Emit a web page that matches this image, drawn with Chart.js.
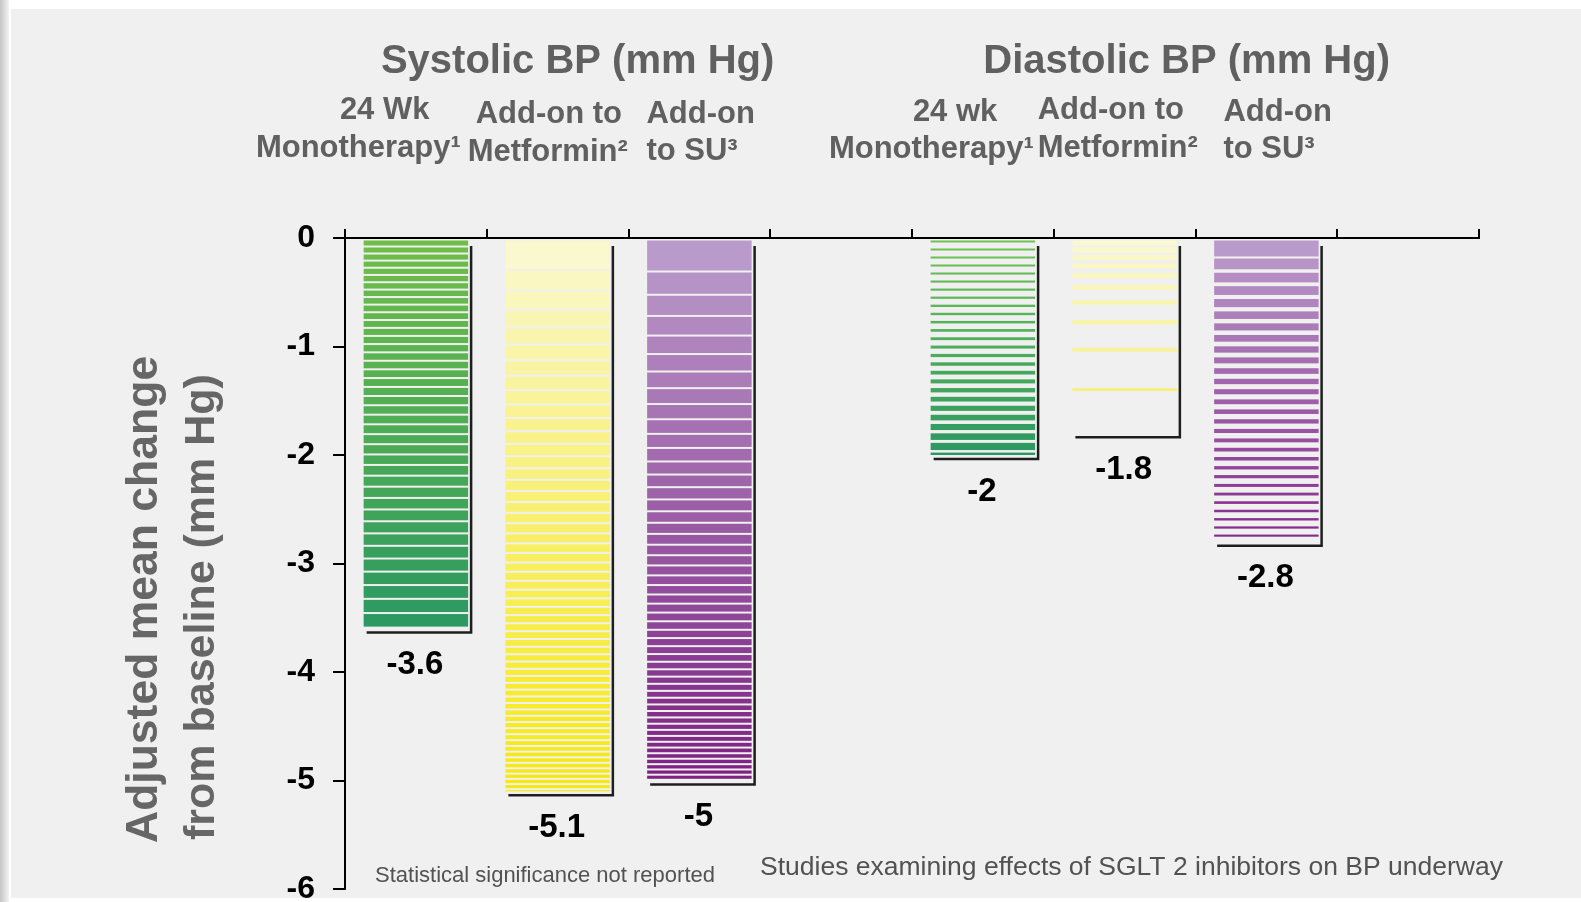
<!DOCTYPE html>
<html>
<head>
<meta charset="utf-8">
<title>SGLT2 inhibitors - change in blood pressure</title>
<script src="https://cdn.jsdelivr.net/npm/chart.js@4.4.1/dist/chart.umd.min.js"></script>
<style>
  html, body { margin: 0; padding: 0; background: #fff; }
  canvas { display: block; }
</style>
</head>
<body>
<canvas id="chart" width="1581" height="902"></canvas>
<script>
// 8 slots: three systolic studies, a gap, three diastolic studies, a gap
const categories = ["SBP monotherapy", "SBP add-on metformin", "SBP add-on SU", "gap 1",
                    "DBP monotherapy", "DBP add-on metformin", "DBP add-on SU", "gap 2"];
const changeValues = [-3.6, -5.1, -5, null, -2, -1.8, -2.8, null];
const valueLabels = ["-3.6", "-5.1", "-5", "", "-2", "-1.8", "-2.8", ""];
const yTicks = [0, -1, -2, -3, -4, -5, -6];

const groupTitles = ["Systolic BP (mm Hg)", "Diastolic BP (mm Hg)"];
const headerLines = [
    ["24 Wk", "Monotherapy\u00b9"], ["Add-on to", "Metformin\u00b2"], ["Add-on", "to SU\u00b3"], null,
    ["24 wk", "Monotherapy\u00b9"], ["Add-on to", "Metformin\u00b2"], ["Add-on", "to SU\u00b3"], null
];
const yTitle = ["Adjusted mean change", "from baseline (mm Hg)"];
const footNotes = ["Statistical significance not reported",
                   "Studies examining effects of SGLT 2 inhibitors on BP underway"];

// --- styling only below ---
const GREY = "#606060";
const FONT = "'Liberation Sans', Arial, sans-serif";

// offsets of header lines from the slot centre: [dx, y]
const headerPos = [
    [[-76, 110], [-160, 148]],
    [[-82, 114], [-90, 152]],
    [[-53, 114], [-53, 151]],
    null,
    [[-70, 112], [-154, 149]],
    [[-87, 110], [-87, 148]],
    [[-43, 112], [-43, 149]],
    null
];
// group title: slot it hangs from and offset
const titlePos = [[1, 20, 62], [5, 62, 62]];

// striped fills: colour top -> bottom, row/gap height top -> bottom, curve exponent
const barStyles = [
    { c0: [110, 190, 72], c1: [42, 152, 98], row0: 5, row1: 13, gap0: 2, gap1: 2, q: 1.4 },
    { c0: [250, 248, 206], c1: [246, 232, 12], row0: 28, row1: 3, gap0: 2, gap1: 2, q: 0.35 },
    { c0: [186, 154, 202], c1: [124, 32, 130], row0: 30, row1: 3, gap0: 2, gap1: 2, q: 0.4 },
    null,
    { c0: [112, 194, 82], c1: [42, 152, 98], row0: 2, row1: 8, gap0: 6, gap1: 2, q: 2.5 },
    { c0: [250, 248, 206], c1: [246, 238, 110], row0: 5, row1: 2, gap0: 2, gap1: 90, q: 1.6 },
    { c0: [186, 154, 202], c1: [132, 40, 138], row0: 16, row1: 2, gap0: 2, gap1: 6, q: 0.35 },
    null
];

function mix(a, b, t) {
    return "rgb(" + a.map((v, k) => Math.round(v + (b[k] - v) * t)).join(",") + ")";
}

function drawStripes(ctx, left, right, top, bottom, st) {
    const h = bottom - top;
    let y = top;
    while (y < bottom) {
        const t = (y - top) / h;
        const f = Math.pow(t, st.q);
        const row = st.row0 + (st.row1 - st.row0) * f;
        const gap = st.gap0 + (st.gap1 - st.gap0) * f;
        ctx.fillStyle = mix(st.c0, st.c1, t);
        ctx.fillRect(left, y, right - left, Math.min(row, bottom - y));
        y += row + gap;
    }
}

const background = {
    id: "background",
    beforeDraw(chart) {
        const { ctx, width, height } = chart;
        ctx.save();
        ctx.fillStyle = "#ffffff";
        ctx.fillRect(0, 0, width, height);
        const g = ctx.createLinearGradient(0, 0, 9, 0);
        g.addColorStop(0, "#c4c4c4");
        g.addColorStop(1, "#f4f4f4");
        ctx.fillStyle = g;
        ctx.fillRect(0, 0, 9, height);
        ctx.fillStyle = "#f0f0f0";
        ctx.fillRect(11, 9, width - 11, 889);
        ctx.restore();
    }
};

const stripedBars = {
    id: "stripedBars",
    afterDatasetsDraw(chart) {
        const ctx = chart.ctx;
        const meta = chart.getDatasetMeta(0);
        meta.data.forEach((bar, i) => {
            if (changeValues[i] == null) return;
            const { x, y, base, width } = bar.getProps(["x", "y", "base", "width"], true);
            const left = x - width / 2, right = x + width / 2;
            const top = Math.min(y, base), bottom = Math.max(y, base);
            ctx.save();
            drawStripes(ctx, left, right, top + 1.5, bottom, barStyles[i]);
            // dark edge to the right and below, slightly offset
            ctx.strokeStyle = "#1e1e1e";
            ctx.lineWidth = 2.5;
            ctx.beginPath();
            ctx.moveTo(right + 3, top + 7);
            ctx.lineTo(right + 3, bottom + 4);
            ctx.lineTo(left + 3, bottom + 4);
            ctx.stroke();
            // value below the bar
            ctx.fillStyle = "#000";
            ctx.font = "bold 33px " + FONT;
            ctx.textAlign = "center";
            ctx.textBaseline = "middle";
            ctx.fillText(valueLabels[i], x - 1, bottom + 36.5);
            ctx.restore();
        });
    }
};

const texts = {
    id: "texts",
    afterDraw(chart) {
        const ctx = chart.ctx;
        const xs = chart.scales.x;
        ctx.save();
        ctx.fillStyle = GREY;
        ctx.textBaseline = "middle";

        ctx.font = "bold 40px " + FONT;
        ctx.textAlign = "center";
        groupTitles.forEach((t, k) => {
            const [slot, dx, y] = titlePos[k];
            ctx.fillText(t, xs.getPixelForValue(slot) + dx, y);
        });

        ctx.font = "bold 31px " + FONT;
        ctx.textAlign = "left";
        headerLines.forEach((lines, i) => {
            if (!lines) return;
            const cx = xs.getPixelForValue(i);
            lines.forEach((line, j) => {
                const [dx, y] = headerPos[i][j];
                ctx.fillText(line, cx + dx, y);
            });
        });

        // y axis title, two rotated lines
        ctx.fillStyle = "#666";
        yTitle.forEach((line, j) => {
            ctx.save();
            ctx.font = "bold " + (j === 0 ? 44.5 : 43) + "px " + FONT;
            ctx.translate(145 + j * 57, 843 - j * 3);
            ctx.rotate(-Math.PI / 2);
            ctx.textAlign = "left";
            ctx.fillText(line, 0, 0);
            ctx.restore();
        });

        ctx.fillStyle = "#525252";
        ctx.font = "22px " + FONT;
        ctx.fillText(footNotes[0], 375, 876);
        ctx.font = "26.5px " + FONT;
        ctx.fillText(footNotes[1], 760, 868);
        ctx.restore();
    }
};

new Chart(document.getElementById("chart").getContext("2d"), {
    type: "bar",
    data: {
        labels: categories,
        datasets: [{
            data: changeValues,
            backgroundColor: "rgba(0,0,0,0)",
            borderWidth: 0,
            barPercentage: 0.737,
            categoryPercentage: 1
        }]
    },
    options: {
        responsive: false,
        animation: false,
        events: [],
        layout: { padding: { left: 0, top: 218, right: 102, bottom: 13 } },
        plugins: {
            legend: { display: false },
            tooltip: { enabled: false }
        },
        scales: {
            x: {
                position: "top",
                offset: true,
                grid: { offset: true, drawOnChartArea: false, drawTicks: true, tickLength: 9, color: "#000", lineWidth: 2 },
                border: { display: true, color: "#000", width: 2 },
                ticks: { display: false },
                afterFit: s => { s.height = 20; }
            },
            y: {
                min: -6,
                max: 0,
                afterBuildTicks: s => { s.ticks = yTicks.map(v => ({ value: v })); },
                ticks: { color: "#000", font: { family: FONT, size: 32, weight: "bold" }, padding: 18 },
                grid: { drawOnChartArea: false, tickLength: 12, color: "#000", lineWidth: 2 },
                border: { color: "#000", width: 2 },
                afterFit: s => { s.width = 345; s.paddingTop = 0; s.paddingBottom = 0; }
            }
        }
    },
    plugins: [background, stripedBars, texts]
});
</script>
</body>
</html>
